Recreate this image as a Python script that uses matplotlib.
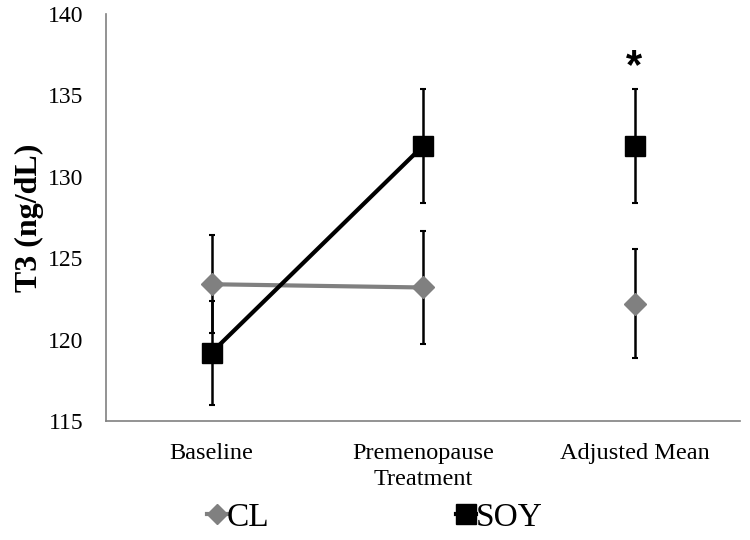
import numpy as np
import matplotlib.pyplot as plt

plt.rcParams['font.family'] = ['Liberation Serif', 'DejaVu Serif']

# 数据
categories = ['Baseline', 'Premenopause\nTreatment', 'Adjusted Mean']
cl_mean = [123.4, 123.2, 122.2]
cl_err = [3.0, 3.45, 3.35]
soy_mean = [119.2, 131.9, 131.9]
soy_err = [3.2, 3.5, 3.5]

x = np.arange(len(categories))
gray = '#808080'

fig = plt.figure(figsize=(7.5, 5.4), dpi=100)
ax = fig.add_axes([0.141, 0.2204, 0.846, 0.7537])

# 误差线
ax.errorbar(x, cl_mean, yerr=cl_err, fmt='none', ecolor='black', elinewidth=1.8,
            capsize=2.5, capthick=1.5, zorder=2)
ax.errorbar(x, soy_mean, yerr=soy_err, fmt='none', ecolor='black', elinewidth=1.8,
            capsize=2.5, capthick=1.5, zorder=2)

# 前两个时间点连线，调整均值单独画点
ax.plot(x[:2], cl_mean[:2], color=gray, lw=3, zorder=3)
ax.plot(x[:2], soy_mean[:2], color='black', lw=3, zorder=3)
ax.plot(x, cl_mean, ls='none', marker='D', color=gray, markersize=11, zorder=4)
ax.plot(x, soy_mean, ls='none', marker='s', color='black', markersize=14, zorder=4)

# 显著性标记
ax.text(x[2], soy_mean[2] + soy_err[2] + 0.1, '*', ha='center', va='bottom',
        fontsize=30, fontweight='bold', family='Liberation Sans')

ax.set_xlim(-0.5, 2.5)
ax.set_ylim(115, 140)
ax.set_yticks(np.arange(115, 141, 5))
ax.set_xticks(x)
ax.set_xticklabels(categories, fontsize=17.5, linespacing=1.3)
ax.tick_params(axis='y', labelsize=17, length=0, pad=16)
ax.tick_params(axis='x', length=0, pad=16)
ax.set_ylabel('T3 (ng/dL)', fontsize=23, fontweight='bold', labelpad=3)

for s in ['top', 'right']:
    ax.spines[s].set_visible(False)
for s in ['left', 'bottom']:
    ax.spines[s].set_color(gray)
    ax.spines[s].set_linewidth(1.2)

# 图例
h1, = ax.plot([], [], color=gray, lw=3, marker='D', markersize=10)
h2, = ax.plot([], [], color='black', lw=3, marker='s', markersize=14)
fig.legend([h1, h2], ['CL', 'SOY'], loc='center', bbox_to_anchor=(0.5, 0.041),
           ncol=2, frameon=False, fontsize=24, handlelength=0.6, handletextpad=0.0,
           columnspacing=5.6)

fig.savefig('out.png', dpi=100)
